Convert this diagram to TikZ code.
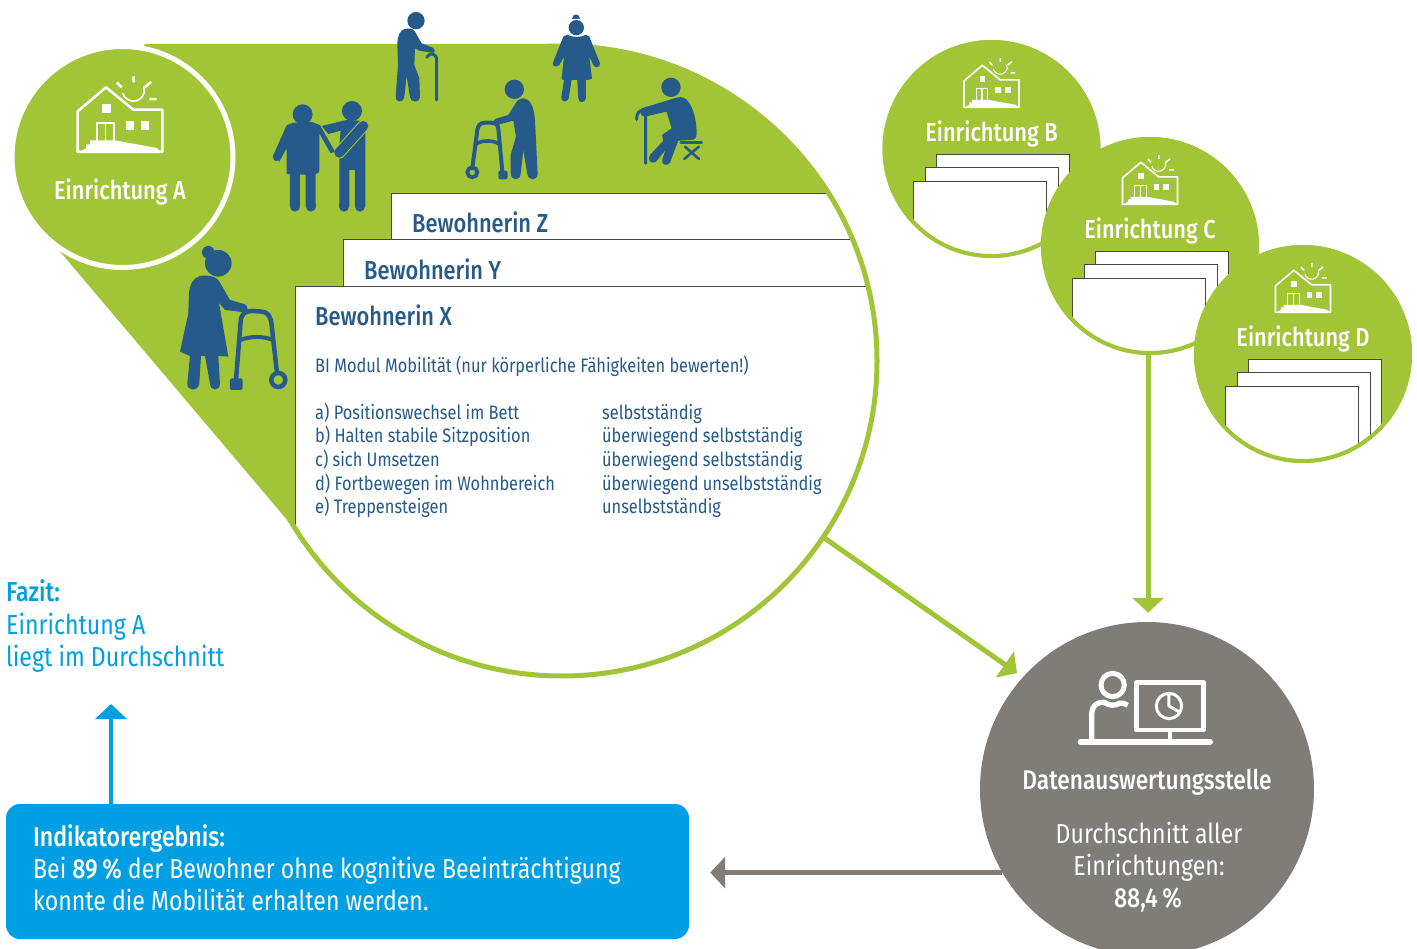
\documentclass[tikz,border=0pt]{standalone}
\usepackage{fontspec}
\usetikzlibrary{arrows.meta,calc}
\setmainfont{Fira Sans}
\newfontfamily\fr[FakeStretch=0.84]{Fira Sans}
\newfontfamily\frb[FakeStretch=0.84]{Fira Sans Medium}
\definecolor{grn}{HTML}{A2C537}
\definecolor{dblue}{HTML}{255A8A}
\definecolor{cyanb}{HTML}{009FE3}
\definecolor{gry}{HTML}{807C78}
\definecolor{edge}{HTML}{4A453F}
\tikzset{
  paper/.style={fill=white,draw=edge,line width=1pt},
  arrowline/.style={line width=5pt,-{Triangle[length=15pt,width=31pt]}},
  einr/.style={text=white,font=\frb\fontsize{26}{30}\selectfont,inner sep=0pt,anchor=base},
  captext/.style={font=\frb\fontsize{26}{30}\selectfont,text=dblue,inner sep=0pt,anchor=base west},
  bodyt/.style={font=\fr\fontsize{19.5}{23.5}\selectfont,text=dblue,inner sep=0pt,anchor=base west},
  big/.style={font=\fr\fontsize{27.5}{32}\selectfont,inner sep=0pt},
  limb/.style={draw=dblue,line cap=round,line join=round},
  ic/.style={draw=white,line join=round,line cap=round},
}
% house icon: #1,#2 = centre x, bottom y of the icon ; #3 = scale
\newcommand{\houseicon}[3]{%
\begin{scope}[shift={(#1,#2)},x=#3pt,y=-#3pt]
 \pgfmathsetlengthmacro{\lwa}{7.5*#3}
 \pgfmathsetlengthmacro{\lwb}{5*#3}
 \draw[ic,line width=\lwa] (-127,-3)--(-127,-125)--(-42,-197)--(40,-130)--(127,-130)--(127,-3)--cycle;
 \fill[white] (-15,-38)--(110,-15)--(127,0)--(-127,0)--(-102,-14)--(-102,-26)--(-90,-26)--(-90,-38)--cycle;
 \fill[white] (-54,-146) rectangle (-28,-120);
 \fill[white] (18,-96) rectangle (43,-70);
 \fill[white] (62,-96) rectangle (88,-70);
 \draw[ic,line width=\lwb,line cap=butt] (-70,-35)--(-70,-90)--(-18,-90)--(-18,-35) (-44,-90)--(-44,-35);
 \draw[ic,line width=\lwb,line cap=butt] (8,-180) arc[start angle=165,end angle=-20,radius=33];
 \draw[ic,line width=\lwa,line cap=butt] (41,-230)--(41,-212) (-10,-212)--(5,-197) (75,-198)--(93,-213) (88,-162)--(110,-162);
\end{scope}}
% facility circle
\newcommand{\facility}[4]{%
 \node[circle,fill=grn,minimum size=218pt,inner sep=0pt] (#1) at (#2,#3) {};
 \begin{scope}
  \clip (#2,#3) circle[radius=108];
  \draw[paper] ($(#2,#3)+(-55,6)$) rectangle ($(#2,#3)+(78,150)$);
  \draw[paper] ($(#2,#3)+(-66,19)$) rectangle ($(#2,#3)+(67,150)$);
  \draw[paper] ($(#2,#3)+(-78,33)$) rectangle ($(#2,#3)+(55,150)$);
 \end{scope}
 \draw[grn,line width=4pt] (#2,#3) circle[radius=107];
 \houseicon{#2}{#3-41}{0.2167}
 \node[einr] at ($(#2,#3)+(0,-7)$) {Einrichtung #4};
}
\begin{document}
\begin{tikzpicture}[x=1pt,y=-1pt]
\useasboundingbox (0,0) rectangle (1417,949);
\clip (0,0) rectangle (1417,949);
% --- big lens
\node[circle,fill=grn,minimum size=634pt,inner sep=0pt] (bigc) at (562,361) {};
\fill[grn] (145,44)--(562,44)--(562,361)--(310,547)--(57,248)--cycle;
\begin{scope}
 \clip (562,361) circle[radius=315];
 \draw[paper] (391,194) rectangle (1000,700);
 \draw[paper] (343,240) rectangle (1000,700);
 \draw[paper] (295,287) rectangle (1000,700);
\end{scope}
\draw[grn,line width=5pt] (562,361) circle[radius=315];
% --- circle A
\node[circle,fill=grn,draw=white,line width=5pt,minimum size=221pt,inner sep=0pt] (A) at (122.5,157) {};
\houseicon{120}{153}{0.3333}
\node[einr] at (120,200) {Einrichtung A};
% --- paper texts
\node[captext] (tz) at (412,233) {Bewohnerin Z};
\node[captext] (ty) at (364,280) {Bewohnerin Y};
\node[captext] (tx) at (315,326) {Bewohnerin X};
\node[bodyt] (tm) at (315,373) {BI Modul Mobilität (nur körperliche Fähigkeiten bewerten!)};
\node[bodyt] at (315,420) {a) Positionswechsel im Bett};
\node[bodyt] at (315,443) {b) Halten stabile Sitzposition};
\node[bodyt] at (315,467) {c) sich Umsetzen};
\node[bodyt] at (315,490) {d) Fortbewegen im Wohnbereich};
\node[bodyt] at (315,514) {e) Treppensteigen};
\node[bodyt] at (602,420) {selbstständig};
\node[bodyt] at (602,443) {überwiegend selbstständig};
\node[bodyt] at (602,467) {überwiegend selbstständig};
\node[bodyt] at (602,490) {überwiegend unselbstständig};
\node[bodyt] at (602,514) {unselbstständig};
% --- facilities
\facility{B}{991.5}{149}{B}
\facility{C}{1150}{246}{C}
\facility{D}{1303}{354}{D}
% --- evaluation circle
\node[circle,fill=gry,minimum size=334pt,inner sep=0pt] (dat) at (1147,789) {};
\begin{scope}[shift={(1000,620)},x=0.3333pt,y=-0.3333pt]
 \draw[ic,line width=5pt] (338,195) circle[radius=35];
 \draw[ic,line width=5.3pt,line cap=butt] (275,362)--(275,285) .. controls (275,255) and (295,245) .. (312,247) .. controls (330,258) and (345,258) .. (358,250) .. controls (365,247) and (375,250) .. (383,256);
 \draw[ic,line width=4.8pt] (409,188) rectangle (610,330);
 \draw[ic,line width=4.8pt,line cap=butt] (510,330)--(510,365);
 \draw[ic,line width=6pt] (242,366)--(630,366);
 \draw[ic,line width=3pt] (507,258) circle[radius=38];
 \draw[ic,line width=3pt] (507,222)--(507,258)--(538,276);
\end{scope}
\node[big,text=white,font=\frb\fontsize{27}{32}\selectfont,anchor=base] (dt) at (1147,789) {Datenauswertungsstelle};
\node[big,text=white,anchor=base] at (1149,843) {Durchschnitt aller};
\node[big,text=white,anchor=base] at (1149,875) {Einrichtungen:};
\node[big,text=white,font=\frb\fontsize{27.5}{32}\selectfont,anchor=base] at (1148,907) {88,4\,\%};
% --- result box
\node[fill=cyanb,rounded corners=14pt,minimum width=683pt,minimum height=135pt,inner sep=0pt] (ind) at (347.5,871.5) {};
\node[big,text=white,font=\frb\fontsize{27.5}{32}\selectfont,anchor=base west] at (33,846) {Indikatorergebnis:};
\node[big,text=white,anchor=base west] at (33,878) {Bei {\frb 89\,\%} der Bewohner ohne kognitive Beeinträchtigung};
\node[big,text=white,anchor=base west] at (33,910) {konnte die Mobilität erhalten werden.};
% --- conclusion
\node[big,text=cyanb,font=\frb\fontsize{27.5}{32}\selectfont,anchor=base west] (fz) at (6,601) {Fazit:};
\node[big,text=cyanb,anchor=base west] at (6,634) {Einrichtung A};
\node[big,text=cyanb,anchor=base west] at (6,666) {liegt im Durchschnitt};
% --- connectors
\coordinate (indup) at (111,804);
\coordinate (fzlow) at (111,704);
\draw[arrowline,grn,shorten >=7pt] (bigc.-34.7) -- (dat.138);
\draw[arrowline,grn,shorten >=9pt] (C.-91) -- (C.-91 |- dat.north);
\draw[arrowline,gry,shorten >=21pt] (dat.210.3) -- (dat.210.3 -| ind.east);
\draw[arrowline,cyanb,line width=4.5pt] (indup) -- (fzlow);
% --- people (coordinates are those of 3x crops)
\begin{scope}[x=0.3333pt,y=-0.3333pt]
 % woman with walker
 \fill[dblue] (655,790) circle[radius=40] (625,757) circle[radius=19];
 \fill[dblue] (600,828) .. controls (625,825) and (650,828) .. (660,848) -- (690,900) -- (735,913) .. controls (745,918) and (745,935) .. (735,937) -- (675,930) -- (657,908) -- (685,1070) -- (655,1068) -- (660,1150) .. controls (660,1175) and (630,1175) .. (630,1150) -- (615,1068) -- (603,1068) -- (598,1150) .. controls (595,1175) and (560,1175) .. (562,1150) -- (570,1068) -- (540,1055) -- (565,940) -- (567,880) .. controls (570,850) and (580,835) .. (600,828) -- cycle;
 \draw[limb,line width=4.5pt] (708,1140) -- (722,965) .. controls (724,940) and (735,933) .. (760,933) -- (785,935) .. controls (805,936) and (812,950) .. (815,975) -- (830,1110);
 \draw[limb,line width=4pt] (722,1020) .. controls (750,1008) and (790,1008) .. (818,1020);
 \draw[dblue,line width=4.5pt] (835,1140) circle[radius=21];
 \fill[dblue,rounded corners=2pt] (690,1135) rectangle (728,1170);
 % helper and resident
 \fill[dblue] (1056,333) circle[radius=30] (908,343) circle[radius=30];
 \fill[dblue] (965,378) -- (1040,360) -- (1080,362) -- (1096,395) -- (1096,620) -- (1065,620) -- (1065,510) -- (1048,510) -- (1048,620) -- (1018,620) -- (1018,440) -- (1022,392) -- (985,402) -- cycle;
 \draw[limb,line width=10pt] (1033,620)--(1033,615) (1080,620)--(1080,615);
 \draw[line cap=round,draw=grn,line width=12pt] (1090,378)--(1018,458);
 \draw[limb,line width=10pt] (1090,378)--(1018,458);
 \fill[dblue] (860,520) .. controls (860,525) and (870,522) .. (870,522) -- (870,620) -- (900,620) -- (900,524) -- (917,524) -- (917,620) -- (947,620) -- (947,522) .. controls (955,522) and (958,518) .. (958,510) -- (958,400) -- (992,460) -- (1005,455) -- (960,375) -- (935,366) -- (880,368) -- (860,376) -- (818,470) -- (838,485) -- (860,445) -- cycle;
 \draw[limb,line width=10pt] (885,620)--(885,615) (932,620)--(932,615);
 \draw[limb,line width=6pt] (829,474)--(833,470);
\end{scope}
\begin{scope}[shift={(380,0)},x=0.3333pt,y=-0.3333pt]
 % man with cane
 \fill[dblue] (108,62) circle[radius=26];
 \fill[dblue] (72,88) .. controls (85,83) and (100,85) .. (105,95) -- (125,130) -- (158,143) .. controls (168,150) and (165,162) .. (155,158) -- (118,152) -- (105,145) -- (103,195) -- (118,235) -- (120,292) .. controls (118,310) and (92,308) .. (90,292) -- (80,228) -- (73,292) .. controls (70,310) and (45,308) .. (47,290) -- (54,195) -- (52,130) .. controls (52,110) and (60,92) .. (72,88) -- cycle;
 \draw[limb,line width=3pt] (170,300)--(170,180) .. controls (170,160) and (150,155) .. (140,172);
 % woman
 \fill[dblue] (589,83) circle[radius=23];
 \fill[dblue] (577,56) .. controls (577,38) and (601,38) .. (601,56) -- cycle;
 \fill[dblue] (562,104) .. controls (575,113) and (605,113) .. (618,104) -- (628,110) -- (660,190) .. controls (660,205) and (645,205) .. (640,195) -- (628,170) -- (636,235) .. controls (636,238) and (625,240) .. (618,240) -- (618,295) .. controls (615,310) and (595,310) .. (595,295) -- (592,240) -- (575,240) -- (566,295) .. controls (562,310) and (540,305) .. (544,292) -- (552,240) .. controls (548,240) and (545,238) .. (545,235) -- (552,170) -- (538,195) .. controls (530,205) and (512,198) .. (520,185) -- (550,110) -- cycle;
 % man with walker
 \fill[dblue] (403,268) circle[radius=29];
 \fill[dblue] (430,295) .. controls (450,295) and (462,320) .. (465,360) -- (473,522) .. controls (470,545) and (445,542) .. (442,522) -- (430,450) -- (422,522) .. controls (420,545) and (392,542) .. (392,520) -- (392,465) -- (408,410) -- (400,362) -- (348,376) .. controls (338,372) and (338,362) .. (348,356) -- (385,345) -- (412,302) .. controls (417,298) and (425,295) .. (430,295) -- cycle;
 \draw[limb,line width=4pt] (367,515)--(355,385) .. controls (353,372) and (345,368) .. (330,368) -- (315,368) .. controls (300,368) and (294,378) .. (292,390) -- (277,505);
 \draw[limb,line width=3.6pt] (288,432) .. controls (305,420) and (340,420) .. (358,432);
 \draw[dblue,line width=3.8pt] (277,517) circle[radius=15];
 \fill[dblue,rounded corners=2pt] (355,512) rectangle (383,538);
 % seated man
 \fill[dblue] (873,262) circle[radius=29];
 \fill[dblue] (785,325) -- (890,293) .. controls (905,288) and (918,295) .. (925,305) .. controls (940,325) and (950,360) .. (950,400) .. controls (950,415) and (945,420) .. (930,420) -- (895,422) -- (870,488) .. controls (862,500) and (842,495) .. (847,478) -- (857,450) -- (828,485) .. controls (815,495) and (800,480) .. (810,465) -- (850,422) -- (846,405) -- (875,385) -- (860,335) -- (795,350) .. controls (780,350) and (778,332) .. (785,325) -- cycle;
 \draw[limb,line width=3pt] (797,490)--(797,350) .. controls (797,325) and (770,325) .. (770,358);
 \draw[limb,line width=3pt] (903,429)--(965,429);
 \draw[limb,line width=2.6pt] (915,440)--(957,477) (957,440)--(913,477);
\end{scope}
\end{tikzpicture}
\end{document}
